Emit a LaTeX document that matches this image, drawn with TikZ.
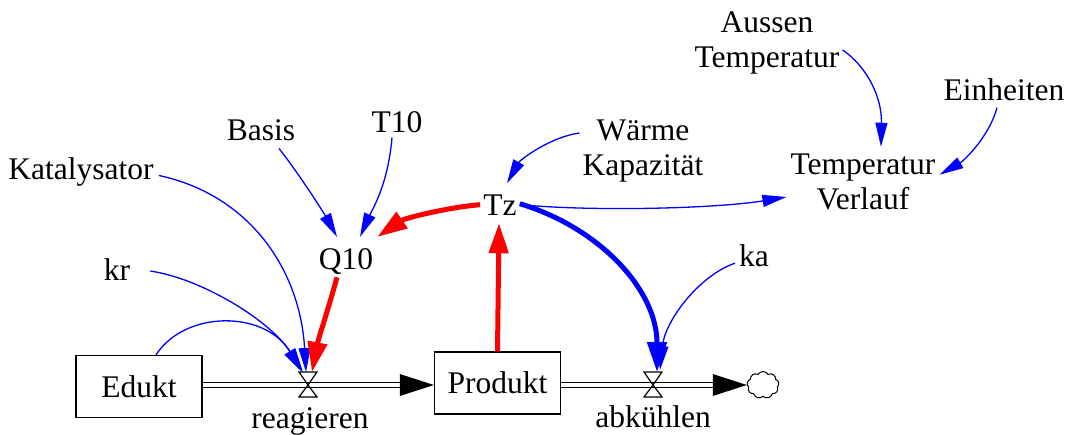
\documentclass[tikz,border=0pt]{standalone}
\usepackage{fontspec}
\setmainfont{Liberation Serif}
\usetikzlibrary{arrows.meta,calc,shapes.symbols}
\begin{document}
\begin{tikzpicture}[x=1pt,y=-1pt,
  lbl/.style={font=\fontsize{31.5}{35}\selectfont, inner sep=0pt, align=center},
  stock/.style={lbl, draw, line width=1.3pt, minimum width=126pt, minimum height=62pt},
  info/.style={blue, line width=1.3pt, -{Triangle[length=24pt,width=12pt]}},
  infothick/.style={blue, line width=5pt, -{Triangle[length=30pt,width=19pt]}},
  causal/.style={red, line width=5pt, -{Triangle[length=30pt,width=19pt]}},
  pipe/.style={line width=1.3pt, double=white, double distance=4pt},
  valve/.style={line width=1.2pt},
]
\useasboundingbox (0,0) rectangle (1068,434);

% stocks and flows
\node[stock] (Edukt) at (139,386.5) {Edukt};
\node[stock] (Produkt) at (497.5,383) {Produkt};
\coordinate (vR) at (308,385);
\coordinate (vA) at (653,385);
\node[cloud, draw, line width=1pt, cloud puffs=9, cloud puff arc=120, aspect=1.2,
      minimum width=32pt, minimum height=27pt, inner sep=0pt] (cloud) at (763,385) {};

\coordinate (pR) at (Produkt.west |- vR);
\coordinate (pC) at (cloud.west |- vA);
\draw[pipe] (Edukt.east |- vR) -- ($(pR)+(-30,0)$);
\fill ($(pR)+(-34,-11)$) -- (pR) -- ($(pR)+(-34,11)$) -- cycle;
\draw[pipe] (Produkt.east |- vA) -- ($(pC)+(-30,0)$);
\fill ($(pC)+(-34,-11)$) -- (pC) -- ($(pC)+(-34,11)$) -- cycle;

\draw[valve] (vR) -- ++(-9,-13) -- ++(18,0) -- cycle;
\draw[valve] (vR) -- ++(-9,12) -- ++(18,0) -- cycle;
\draw[valve] (vA) -- ++(-9,-13) -- ++(18,0) -- cycle;
\draw[valve] (vA) -- ++(-9,12) -- ++(18,0) -- cycle;

\node[lbl, anchor=base] (reagieren) at (310,428) {reagieren};
\node[lbl, anchor=base] (abkuehlen) at (653,427) {abkühlen};

% auxiliaries
\node[lbl, anchor=base] (Kat) at (81,179) {Katalysator};
\node[lbl, anchor=base] (kr) at (117,280) {kr};
\node[lbl, anchor=base] (Basis) at (261,140) {Basis};
\node[lbl, anchor=base] (T10) at (397,132) {T10};
\node[lbl, anchor=base] (Q10) at (346,269) {Q10};
\node[lbl, anchor=base] (Tz) at (500,215) {Tz};
\node[lbl] (WK) at (643,151) {Wärme\\Kapazität};
\node[lbl, anchor=base] (ka) at (754,266) {ka};
\node[lbl] (AT) at (767,43) {Aussen\\Temperatur};
\node[lbl, anchor=base] (Einh) at (1004,100) {Einheiten};
\node[lbl] (TV) at (863,182) {Temperatur\\Verlauf};

% connectors into reagieren
\draw[info] ([shift={(17,0)}]Edukt.north) .. controls (185,310) and (265,310) .. ($(vR)+(-6,-13)$);
\draw[info] ([shift={(20,2)}]kr.east) .. controls (200,278) and (270,320) .. ($(vR)+(-5,-13)$);
\draw[info] ([shift={(5,4)}]Kat.east) .. controls (250,195) and (300,270) .. ($(vR)+(-2,-13)$);
\draw[causal] ([shift={(-9,3)}]Q10.south) .. controls (328,310) and (318,340) .. ($(vR)+(4,-13)$);

% Q10 inputs
\draw[info] ([shift={(18,8)}]Basis.south) .. controls (300,175) and (325,215) .. ([shift={(-9,-11)}]Q10.north);
\draw[info] ([shift={(-5,5)}]T10.south) .. controls (388,185) and (372,210) .. ([shift={(14,-11)}]Q10.north);
\draw[causal] ([shift={(-3,0)}]Tz.west) .. controls (450,207) and (405,218) .. ([shift={(4,-11)}]Q10.north east);

% Tz
\draw[causal] (Produkt.north) -- ([shift={(-1,8)}]Tz.south);
\draw[info] ([shift={(-3,-18)}]WK.west) .. controls (550,137) and (520,160) .. ([shift={(7,-11)}]Tz.north);
\draw[infothick] ([shift={(3,-1)}]Tz.east) .. controls (600,228) and (657,290) .. ($(vA)+(4,-13)$);
\draw[info] ([shift={(-4,8)}]ka.west) .. controls (700,275) and (665,320) .. ($(vA)+(7,-15)$);
\draw[info] ([shift={(3,0)}]Tz.east) .. controls (600,212) and (720,208) .. ([shift={(-4,15)}]TV.west);

% Temperatur Verlauf inputs
\draw[info] ([shift={(3,7)}]AT.east) .. controls (865,65) and (882,95) .. ([shift={(18,-7)}]TV.north);
\draw[info] ([shift={(-7,7)}]Einh.south) .. controls (990,135) and (965,160) .. ([shift={(4,21)}]TV.north east);
\end{tikzpicture}
\end{document}
